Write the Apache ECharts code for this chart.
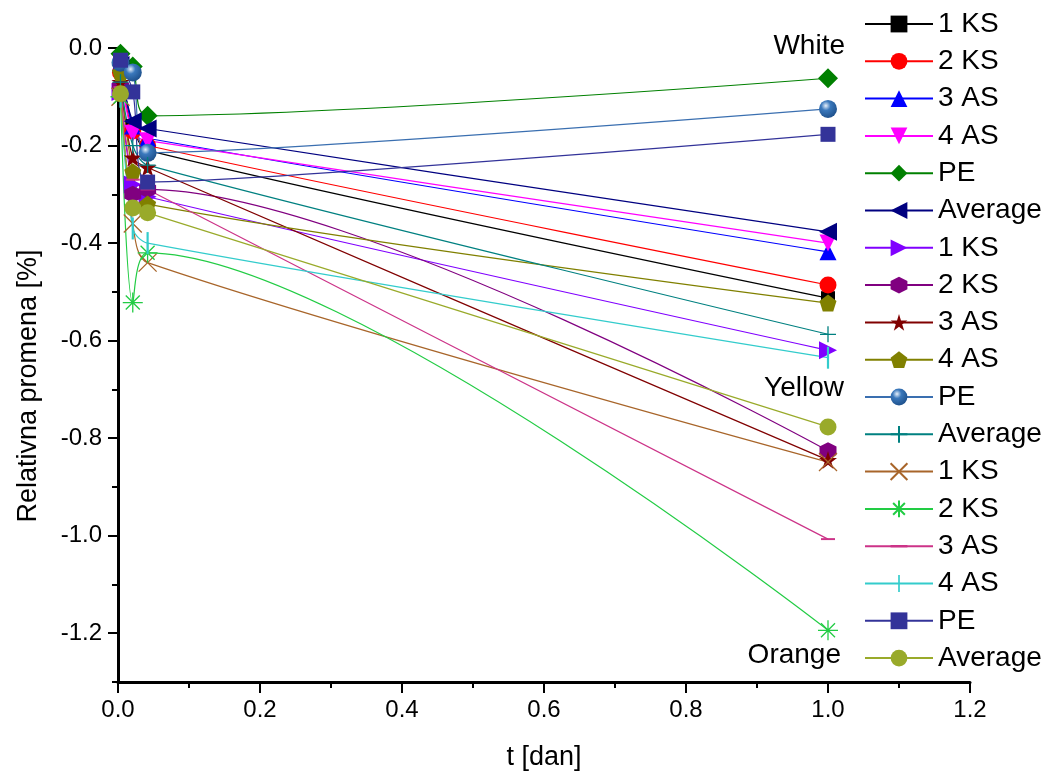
<!DOCTYPE html>
<html>
<head>
<meta charset="utf-8">
<script src="https://cdn.jsdelivr.net/npm/echarts@6/dist/echarts.min.js"></script>
<style>
html,body{margin:0;padding:0;background:#fff;}
#chart{width:1056px;height:777px;}
</style>
</head>
<body>
<div id="chart"></div>
<script>
// ---- data ----
const tValues = [0.0035, 0.0208, 0.0417, 1.0];
const groups = ['White', 'Yellow', 'Orange'];
const samples = ['1 KS', '2 KS', '3 AS', '4 AS', 'PE', 'Average'];
const xTicks = [0.0, 0.2, 0.4, 0.6, 0.8, 1.0, 1.2];
const yTicks = [-1.2, -1.0, -0.8, -0.6, -0.4, -0.2, 0.0];

// White
const white_1KS = [-0.04, -0.16, -0.21, -0.513];
const white_2KS = [-0.05, -0.17, -0.20, -0.486];
const white_3AS = [-0.03, -0.16, -0.185, -0.418];
const white_4AS = [-0.05, -0.175, -0.19, -0.40];
const white_PE = [-0.012, -0.038, -0.139, -0.062];
const white_Avg = [-0.035, -0.15, -0.165, -0.377];
// Yellow
const yellow_1KS = [-0.09, -0.28, -0.305, -0.62];
const yellow_2KS = [-0.08, -0.30, -0.29, -0.826];
const yellow_3AS = [-0.07, -0.225, -0.245, -0.845];
const yellow_4AS = [-0.05, -0.254, -0.32, -0.523];
const yellow_PE = [-0.03, -0.05, -0.215, -0.125];
const yellow_Avg = [-0.07, -0.20, -0.24, -0.587];
// Orange
const orange_1KS = [-0.10, -0.36, -0.44, -0.849];
const orange_2KS = [-0.10, -0.522, -0.42, -1.194];
const orange_3AS = [-0.08, -0.27, -0.29, -1.007];
const orange_4AS = [-0.10, -0.37, -0.40, -0.635];
const orange_PE = [-0.025, -0.09, -0.275, -0.177];
const orange_Avg = [-0.094, -0.328, -0.338, -0.777];

const groupValues = [
  [white_1KS, white_2KS, white_3AS, white_4AS, white_PE, white_Avg],
  [yellow_1KS, yellow_2KS, yellow_3AS, yellow_4AS, yellow_PE, yellow_Avg],
  [orange_1KS, orange_2KS, orange_3AS, orange_4AS, orange_PE, orange_Avg]
];

// ---- styles ----
const HEX = 'path://M50,0 L93.3,25 L93.3,75 L50,100 L6.7,75 L6.7,25 Z';
const STAR = 'path://M50,0 L61.8,36.2 L100,36.2 L69.1,58.6 L80.9,95.1 L50,72.7 L19.1,95.1 L30.9,58.6 L0,36.2 L38.2,36.2 Z';
const PENT = 'path://M50,0 L97.6,34.5 L79.4,90.5 L20.6,90.5 L2.4,34.5 Z';
const XMARK = 'path://M0,0 L10,10 M10,0 L0,10';
const AST = 'path://M0,5 L10,5 M5,0 L5,10 M1.5,1.5 L8.5,8.5 M8.5,1.5 L1.5,8.5';
const PLUS = 'path://M0,5 L10,5 M5,0 L5,10';
const DASH = 'path://M0,0 M0,4.3 L10,4.3 L10,5.7 L0,5.7 Z M10,10';
const VTICK = 'path://M0,0 M4.5,0 L5.5,0 L5.5,10 L4.5,10 Z M10,10';
const sphere = {type: 'radial', x: 0.38, y: 0.32, r: 0.75,
  colorStops: [{offset: 0, color: '#e6f0fb'}, {offset: 0.35, color: '#3a78bc'}, {offset: 1, color: '#1b4c86'}]};

const styles = [
  // White
  [{line: '#000000', sym: 'rect', size: 14, fill: '#000000'},
   {line: '#ff0000', sym: 'circle', size: 17, fill: '#ff0000'},
   {line: '#0000ff', sym: 'triangle', size: 17, fill: '#0000ff'},
   {line: '#ff00ff', sym: 'triangle', size: 17, rot: 180, fill: '#ff00ff'},
   {line: '#008000', sym: 'diamond', size: 20, fill: '#008000'},
   {line: '#000080', sym: 'triangle', size: 18, rot: 90, fill: '#000080'}],
  // Yellow
  [{line: '#8000ff', sym: 'triangle', size: 18, rot: -90, fill: '#8000ff'},
   {line: '#800080', sym: HEX, size: 17, fill: '#800080'},
   {line: '#800000', sym: STAR, size: 18, fill: '#800000'},
   {line: '#808000', sym: PENT, size: 17, fill: '#808000'},
   {line: '#3a6fb0', sym: 'circle', size: 18, fill: sphere},
   {line: '#008080', sym: PLUS, size: 16, fill: 'none', stroke: '#008080'}],
  // Orange
  [{line: '#a8652a', sym: XMARK, size: 18, fill: 'none', stroke: '#a8652a'},
   {line: '#22cc44', sym: AST, size: 20, fill: 'none', stroke: '#22cc44'},
   {line: '#cc3388', sym: DASH, size: 14, fill: '#cc3388'},
   {line: '#33cccc', sym: VTICK, size: 22, fill: '#33cccc'},
   {line: '#333399', sym: 'rect', size: 15, fill: '#333399'},
   {line: '#99aa2a', sym: 'circle', size: 17, fill: '#99aa2a'}]
];

const series = [];
groups.forEach((g, gi) => {
  samples.forEach((s, si) => {
    const st = styles[gi][si];
    const vals = groupValues[gi][si];
    series.push({
      name: s + '\u200b'.repeat(gi),
      type: 'line',
      data: tValues.map((t, i) => [t, vals[i]]),
      smooth: 0.3,
      clip: false,
      symbol: st.sym,
      symbolSize: st.size,
      symbolRotate: st.rot || 0,
      lineStyle: {color: st.line, width: 1.2},
      itemStyle: {color: st.fill, borderColor: st.stroke || st.line, borderWidth: st.stroke ? 1.3 : 0},
      emphasis: {disabled: true},
      z: 2
    });
  });
});

const FONT = '"Liberation Sans", Arial, sans-serif';
const chart = echarts.init(document.getElementById('chart'), null, {renderer: 'canvas'});
chart.setOption({
  animation: false,
  backgroundColor: '#ffffff',
  textStyle: {fontFamily: FONT},
  grid: {left: 118, right: 86, top: 48, bottom: 95, containLabel: false},
  legend: {
    orient: 'vertical',
    left: 859,
    top: 5,
    itemWidth: 68,
    itemHeight: 21,
    itemGap: 9.3,
    selectedMode: false,
    formatter: n => n.replace(/\u200b/g, ''),
    textStyle: {fontFamily: FONT, fontSize: 28, lineHeight: 28, color: '#000'}
  },
  xAxis: {
    type: 'value',
    min: 0, max: 1.2, interval: 0.2,
    name: 't [dan]',
    nameLocation: 'middle',
    nameGap: 62,
    nameTextStyle: {fontFamily: FONT, fontSize: 27, color: '#000'},
    axisLine: {onZero: false, lineStyle: {color: '#000', width: 3}},
    axisTick: {show: true, inside: false, length: 11, lineStyle: {color: '#000', width: 2}},
    minorTick: {show: true, splitNumber: 2, length: 6, lineStyle: {color: '#000', width: 2}},
    axisLabel: {fontFamily: FONT, fontSize: 24, color: '#000', margin: 16,
      customValues: xTicks, formatter: v => v.toFixed(1)},
    splitLine: {show: false}
  },
  yAxis: [{
    type: 'value',
    min: -1.3, max: 0, interval: 0.1,
    name: 'Relativna promena [%]',
    nameLocation: 'middle',
    nameGap: 76,
    nameRotate: 90,
    nameTextStyle: {fontFamily: FONT, fontSize: 27, color: '#000', padding: [0, 42, 0, 0]},
    axisLine: {onZero: false, lineStyle: {color: '#000', width: 3}},
    axisTick: {show: true, inside: false, length: 10, customValues: yTicks, lineStyle: {color: '#000', width: 2}},
    axisLabel: {fontFamily: FONT, fontSize: 24, color: '#000', margin: 16,
      customValues: yTicks, formatter: v => v.toFixed(1)},
    splitLine: {show: false}
  }, {
    type: 'value',
    min: -1.3, max: 0, interval: 0.1,
    position: 'left',
    axisLine: {show: false},
    axisTick: {show: true, inside: false, length: 6, lineStyle: {color: '#000', width: 2}},
    axisLabel: {show: false},
    splitLine: {show: false}
  }],
  graphic: [
    {type: 'text', right: 1056 - 845, top: 32, style: {text: 'White', font: '28px "Liberation Sans", Arial', fill: '#000'}},
    {type: 'text', right: 1056 - 844, top: 374, style: {text: 'Yellow', font: '28px "Liberation Sans", Arial', fill: '#000'}},
    {type: 'text', right: 1056 - 841, top: 641, style: {text: 'Orange', font: '28px "Liberation Sans", Arial', fill: '#000'}}
  ],
  series: series
});
</script>
</body>
</html>
